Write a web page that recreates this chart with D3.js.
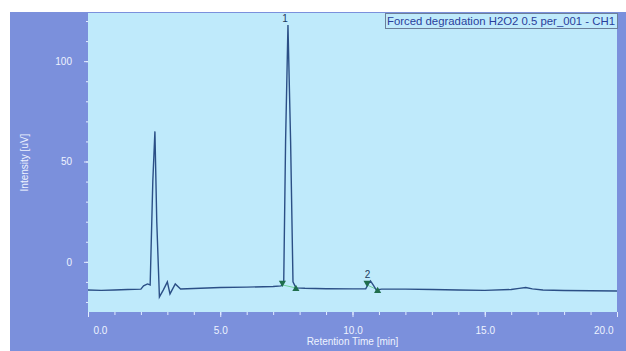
<!DOCTYPE html>
<html lang="en">
<head>
<meta charset="UTF-8">
<title>Chromatogram</title>
<script src="https://d3js.org/d3.v7.min.js"></script>
<style>
    body { margin: 0; background: #fff; }
    svg text { font-family: 'Liberation Sans', Arial, sans-serif; }
    .axis path { display: none; }
    .axis line { stroke: #e4ecff; }
    .axis text { fill: #eef3ff; font-size: 10px; }
</style>
</head>
<body>
<svg id="chart" width="626" height="351"></svg>
<script>
    // retention time (min) and intensity (uV)
    const times = [0, 0.5, 1.0, 1.5, 2.0, 2.1, 2.25, 2.35, 2.45, 2.53, 2.6, 2.7, 2.85, 3.0, 3.1, 3.3, 3.5, 4.0, 5.0, 6.0, 7.0, 7.3,
        7.4, 7.47, 7.56, 7.66, 7.75, 7.86, 8.2, 9.0, 10.0, 10.5, 10.6, 10.68, 10.78, 10.9, 11.1, 12.0, 13.0, 14.0, 15.0,
        16.0, 16.3, 16.55, 16.8, 17.2, 18.0, 19.0, 20.0];
    const intensity = [-14, -14.2, -14, -13.8, -13.6, -12, -11, -11.5, 40, 65, 20, -17.5, -14, -10, -16, -11, -13.5, -13.3, -12.8, -12.6, -12.3, -12,
        -10, 60, 118, 60, -10, -13, -13.2, -13.4, -13.5, -13.4, -11, -9.5, -11.5, -14, -13.6, -13.6, -13.8, -14, -14.2,
        -13.8, -13.2, -12.8, -13.5, -14, -14.3, -14.4, -14.5];

    // integrated peaks: label, start/end time and the baseline value at each
    const peakLabels = ["1", "2"];
    const peakApex = [[7.56, 118], [10.68, -9.5]];
    const peakStart = [[7.35, -11.5], [10.55, -11.5]];
    const peakEnd = [[7.86, -13], [10.95, -14]];

    const xTicks = [0, 5, 10, 15, 20];
    const yTicks = [0, 50, 100];
    const legendText = "Forced degradation H2O2 0.5 per_001 - CH1";

    const svg = d3.select("#chart");
    const plotLeft = 88, plotRight = 617, plotTop = 13, plotBottom = 312;

    // outer frame and plot background
    svg.append("rect").attr("x", 10).attr("y", 12).attr("width", 616).attr("height", 339).attr("fill", "#7b90dc");
    svg.append("rect").attr("x", plotLeft).attr("y", plotTop).attr("width", plotRight - plotLeft).attr("height", plotBottom - plotTop).attr("fill", "#bfeafb");

    const x = d3.scaleLinear().domain([0, 20]).range([plotLeft, plotRight]);
    const y = d3.scaleLinear().domain([-25, 124]).range([plotBottom, plotTop]);

    // minor ticks
    svg.append("g").attr("class", "axis")
        .attr("transform", `translate(0,${plotBottom})`)
        .call(d3.axisBottom(x).tickValues(d3.range(0, 21, 1)).tickSize(3).tickFormat(""));
    svg.append("g").attr("class", "axis")
        .attr("transform", `translate(${plotLeft},0)`)
        .call(d3.axisLeft(y).tickValues(d3.range(-20, 121, 10)).tickSize(2).tickFormat(""));

    // major ticks
    const xAxis = svg.append("g").attr("class", "axis")
        .attr("transform", `translate(0,${plotBottom})`)
        .call(d3.axisBottom(x).tickValues(xTicks).tickSize(5).tickPadding(10).tickFormat(d3.format(".1f")));
    xAxis.selectAll("text")
        .attr("text-anchor", d => d === 0 ? "start" : d === 20 ? "end" : "middle")
        .attr("dx", d => d === 0 ? 5 : d === 20 ? -4 : 0);

    svg.append("g").attr("class", "axis")
        .attr("transform", `translate(${plotLeft},0)`)
        .call(d3.axisLeft(y).tickValues(yTicks).tickSize(4).tickPadding(12));

    svg.append("text")
        .attr("x", (plotLeft + plotRight) / 2).attr("y", 345)
        .attr("text-anchor", "middle").attr("fill", "#eef3ff").attr("font-size", 10)
        .text("Retention Time [min]");
    svg.append("text")
        .attr("transform", `translate(28,${(plotTop + plotBottom) / 2}) rotate(-90)`)
        .attr("text-anchor", "middle").attr("fill", "#eef3ff").attr("font-size", 10)
        .text("Intensity [uV]");

    // integration baselines
    peakLabels.forEach((p, i) => {
        svg.append("line")
            .attr("x1", x(peakStart[i][0])).attr("y1", y(peakStart[i][1]))
            .attr("x2", x(peakEnd[i][0])).attr("y2", y(peakEnd[i][1]))
            .attr("stroke", "#6fd39a").attr("stroke-width", 1);
    });

    // trace
    const line = d3.line().x((d, i) => x(times[i])).y(d => y(d));
    svg.append("path")
        .datum(intensity)
        .attr("d", line)
        .attr("fill", "none")
        .attr("stroke", "#2b4f86")
        .attr("stroke-width", 1.4);

    // peak markers and labels
    const tri = d3.symbol().type(d3.symbolTriangle).size(22);
    peakLabels.forEach((p, i) => {
        svg.append("path").attr("d", tri)
            .attr("transform", `translate(${x(peakStart[i][0])},${y(peakStart[i][1]) - 2}) rotate(180)`)
            .attr("fill", "#1f6e4c");
        svg.append("path").attr("d", tri)
            .attr("transform", `translate(${x(peakEnd[i][0])},${y(peakEnd[i][1]) + 1})`)
            .attr("fill", "#1f6e4c");
        svg.append("text")
            .attr("x", x(peakApex[i][0]) - 3).attr("y", y(peakApex[i][1]) - 3)
            .attr("text-anchor", "middle").attr("font-size", 10).attr("fill", "#1d3a5e")
            .text(p);
    });

    // legend box
    svg.append("rect").attr("x", 385.5).attr("y", 13.5).attr("width", 232).attr("height", 15)
        .attr("fill", "#bfeafb").attr("stroke", "#6b7f9a").attr("stroke-width", 1);
    svg.append("text").attr("x", 387).attr("y", 25)
        .attr("font-size", 10.5).attr("fill", "#2a3f9c")
        .attr("textLength", 228).attr("lengthAdjust", "spacingAndGlyphs")
        .text(legendText);
</script>
</body>
</html>
